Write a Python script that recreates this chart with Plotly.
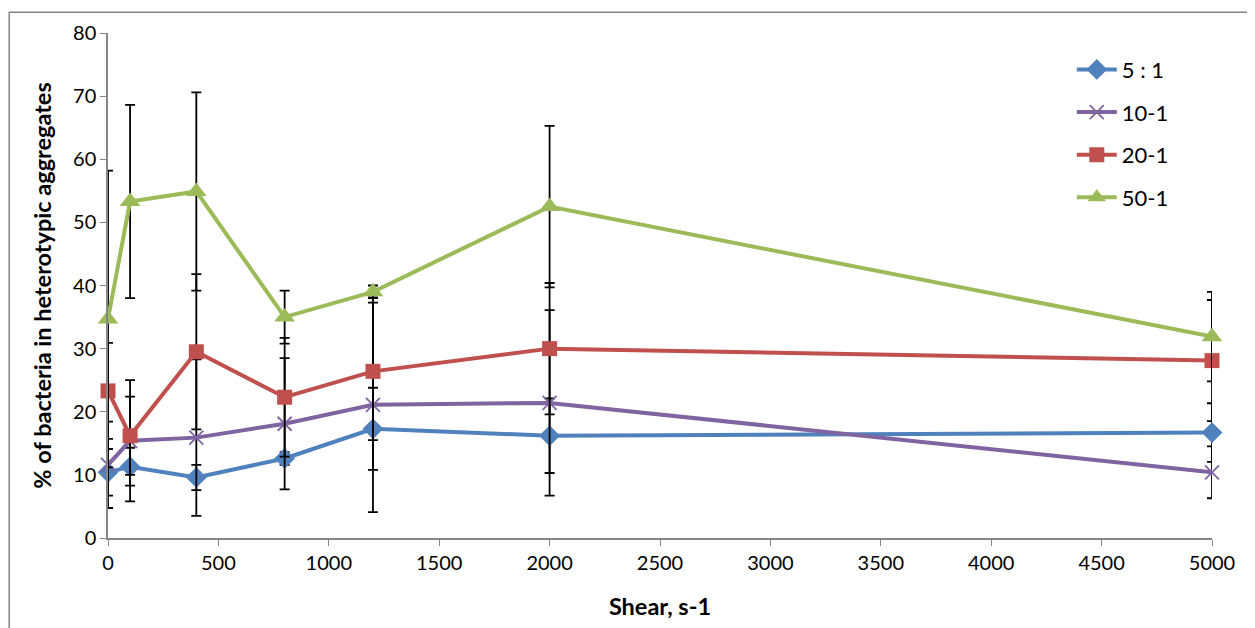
import plotly.graph_objects as go

shear = [0, 100, 400, 800, 1200, 2000, 5000]

s5_1 = [10.4, 11.3, 9.6, 12.6, 17.3, 16.2, 16.7]
s5_1_err = [3.7, 3.0, 2.0, 1.0, 6.5, 5.9, 4.65]

s10_1 = [11.6, 15.4, 15.9, 18.1, 21.1, 21.4, 10.4]
s10_1_err = [6.85, 9.6, 12.4, 10.4, 17.0, 14.7, 4.1]

s20_1 = [23.3, 16.2, 29.5, 22.3, 26.4, 30.0, 28.1]
s20_1_err = [7.6, 6.2, 12.3, 9.4, 10.9, 10.4, 9.6]

s50_1 = [34.7, 53.3, 54.9, 35.0, 39.0, 52.5, 31.9]
s50_1_err = [23.5, 15.3, 15.7, 4.2, 1.0, 12.8, 7.1]

names = ["5 : 1", "10-1", "20-1", "50-1"]
colors = ["#4F81BD", "#8064A2", "#C0504D", "#9BBB59"]

series = [
    (s5_1, s5_1_err, dict(symbol="diamond", size=16, color=colors[0])),
    (s10_1, s10_1_err, dict(symbol="x-thin", size=14, color=colors[1],
                            line=dict(color=colors[1], width=1.8))),
    (s20_1, s20_1_err, dict(symbol="square", size=15, color=colors[2])),
    (s50_1, s50_1_err, dict(symbol="triangle-up", size=18, color=colors[3])),
]

fig = go.Figure()
for name, color, (vals, errs, marker) in zip(names, colors, series):
    fig.add_trace(go.Scatter(
        x=shear, y=vals, name=name, mode="lines+markers",
        legendgroup=name,
        line=dict(color=color, width=4),
        marker=marker,
        error_y=dict(type="data", array=errs, visible=True,
                     color="black", thickness=1.8, width=5),
        cliponaxis=False,
    ))

font_family = "Lato, 'Open Sans', sans-serif"

fig.update_layout(
    width=1247, height=620,
    margin=dict(l=100, r=43, t=22, b=89),
    paper_bgcolor="white", plot_bgcolor="white",
    font=dict(family=font_family, size=20, color="black"),
    showlegend=True,
    legend=dict(x=0.873, y=0.969, xanchor="left", yanchor="top",
                font=dict(size=22, family=font_family),
                tracegroupgap=11, itemwidth=40,
                bgcolor="rgba(0,0,0,0)"),
    xaxis=dict(
        range=[0, 5000], tickmode="linear", tick0=0, dtick=500,
        showgrid=False, zeroline=False,
        showline=True, linecolor="#868686", linewidth=1.5,
        ticks="outside", ticklen=6, tickcolor="#868686",
        tickfont=dict(size=20),
        title=dict(text="<b>Shear, s-1</b>", font=dict(size=23.5), standoff=26),
    ),
    yaxis=dict(
        range=[0, 80], tickmode="linear", tick0=0, dtick=10,
        showgrid=False, zeroline=False,
        showline=True, linecolor="#868686", linewidth=1.5,
        ticks="outside", ticklen=6, tickcolor="#868686",
        tickfont=dict(size=20),
        title=dict(text="<b>% of bacteria in heterotypic aggregates</b>",
                   font=dict(size=23.5), standoff=15),
    ),
)

# outer chart frame (left and top edges visible)
fig.add_shape(type="rect", xref="paper", yref="paper",
              x0=-0.0895, x1=1.2, y0=-0.3, y1=1.041,
              line=dict(color="#868686", width=1.5), layer="below")

fig.write_html("out.html")
